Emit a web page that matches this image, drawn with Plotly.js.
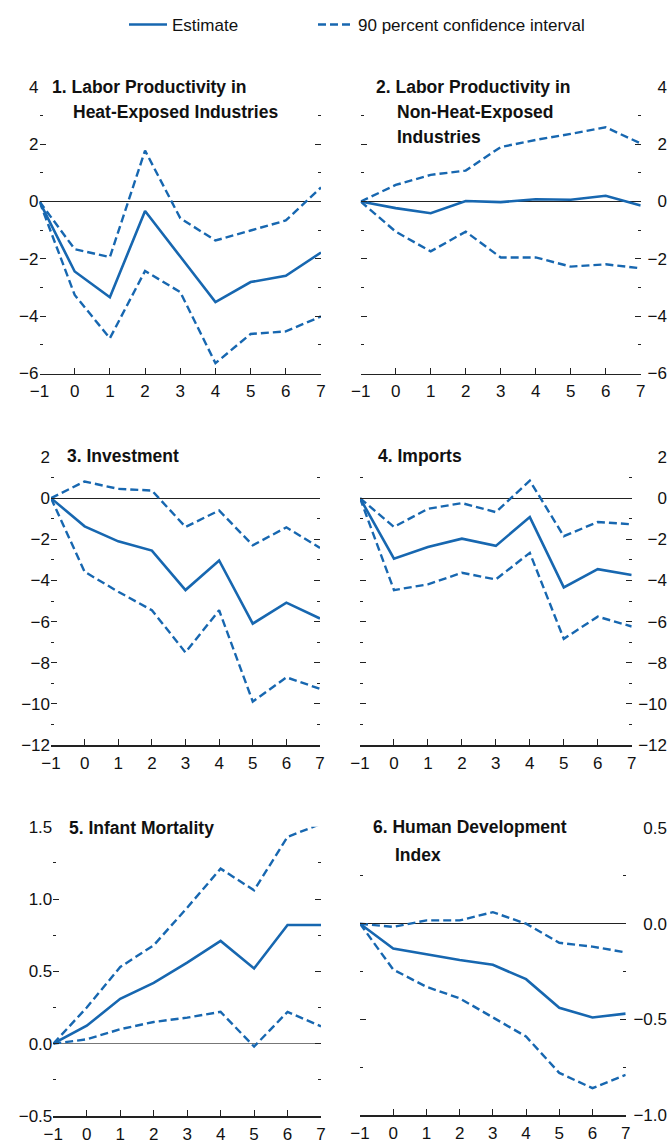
<!DOCTYPE html>
<html>
<head>
<meta charset="utf-8">
<script src="https://cdn.plot.ly/plotly-3.0.1.min.js"></script>
<style>html,body{margin:0;padding:0;background:#fff;}#chart{width:670px;height:1144px;}</style>
</head>
<body>
<div id="chart"></div>
<script>
// ---- data ----
const horizons = [-1, 0, 1, 2, 3, 4, 5, 6, 7];

const titles = [
  ["1. Labor Productivity in", "Heat-Exposed Industries"],
  ["2. Labor Productivity in", "Non-Heat-Exposed", "Industries"],
  ["3. Investment"],
  ["4. Imports"],
  ["5. Infant Mortality"],
  ["6. Human Development", "Index"]
];
const legendNames = ["Estimate", "90 percent confidence interval"];

const p1Est = [0, -2.44, -3.34, -0.33, -1.92, -3.51, -2.81, -2.59, -1.78];
const p1Up  = [0, -1.66, -1.94, 1.78, -0.58, -1.36, -1.01, -0.66, 0.49];
const p1Lo  = [0, -3.26, -4.77, -2.42, -3.16, -5.64, -4.62, -4.53, -4.01];

const p2Est = [0, -0.23, -0.41, 0.02, -0.02, 0.08, 0.06, 0.20, -0.14];
const p2Up  = [0, 0.58, 0.93, 1.08, 1.90, 2.15, 2.36, 2.59, 2.03];
const p2Lo  = [0, -1.05, -1.74, -1.05, -1.95, -1.95, -2.27, -2.19, -2.33];

const p3Est = [0, -1.37, -2.10, -2.55, -4.47, -3.03, -6.10, -5.08, -5.85];
const p3Up  = [0, 0.81, 0.45, 0.37, -1.40, -0.60, -2.29, -1.42, -2.42];
const p3Lo  = [0, -3.58, -4.55, -5.45, -7.50, -5.45, -9.89, -8.71, -9.27];

const p4Est = [0, -2.94, -2.37, -1.97, -2.32, -0.92, -4.34, -3.45, -3.74];
const p4Up  = [0, -1.40, -0.52, -0.24, -0.68, 0.85, -1.85, -1.16, -1.27];
const p4Lo  = [0, -4.47, -4.19, -3.63, -3.95, -2.66, -6.84, -5.76, -6.24];

const p5Est = [0, 0.124, 0.31, 0.42, 0.56, 0.71, 0.52, 0.82, 0.82];
const p5Up  = [0, 0.25, 0.53, 0.68, 0.94, 1.21, 1.06, 1.43, 1.52];
const p5Lo  = [0, 0.03, 0.10, 0.15, 0.18, 0.22, -0.02, 0.22, 0.12];

const p6Est = [0, -0.13, -0.16, -0.19, -0.215, -0.29, -0.44, -0.49, -0.47];
const p6Up  = [0, -0.017, 0.017, 0.017, 0.06, 0.0, -0.10, -0.12, -0.15];
const p6Lo  = [0, -0.24, -0.33, -0.39, -0.49, -0.59, -0.78, -0.86, -0.79];

// y axis scales: [min, max, major step, minor step, tick format]
const yScales = [
  [-6, 4, 2, 1, ""],
  [-6, 4, 2, 1, ""],
  [-12, 2, 2, 1, ""],
  [-12, 2, 2, 1, ""],
  [-0.5, 1.5, 0.5, 0.25, ".1f"],
  [-1.0, 0.5, 0.5, 0.25, ".1f"]
];

// ---- layout geometry (pixels) ----
const W = 670, H = 1144;
const BLUE = "#1767b0";
const FONT = "'Liberation Sans', Arial, sans-serif";
const panels = [
  {x0: 39.5, x1: 321,   top: 86.9,  bot: 373.5, right: false, title: [50, 87, 71, 112, 25]},
  {x0: 360.7, x1: 640.7, top: 86.9, bot: 373.5, right: true,  title: [373.7, 87, 394.7, 112, 24.5]},
  {x0: 51,   x1: 320,   top: 457,   bot: 745,   right: false, title: [65, 456, 0, 0, 0]},
  {x0: 360,  x1: 631.7, top: 457,   bot: 745,   right: true,  title: [376, 456, 0, 0, 0]},
  {x0: 53.3, x1: 321,   top: 826.7, bot: 1116,  right: false, title: [67, 828, 0, 0, 0]},
  {x0: 360,  x1: 625.7, top: 828,   bot: 1115,  right: true,  title: [371.3, 827, 392.7, 855, 28]}
];
const series = [[p1Est, p1Up, p1Lo], [p2Est, p2Up, p2Lo], [p3Est, p3Up, p3Lo],
                [p4Est, p4Up, p4Lo], [p5Est, p5Up, p5Lo], [p6Est, p6Up, p6Lo]];

const traces = [];
const legFont = {family: FONT, size: 17, color: "#111"};
const layout = {
  width: W, height: H,
  margin: {l: 0, r: 0, t: 0, b: 0},
  paper_bgcolor: "#fff", plot_bgcolor: "rgba(0,0,0,0)",
  font: {family: FONT, size: 17, color: "#111"},
  showlegend: true,
  legend: {orientation: "h", x: 124 / W, y: 1 - 7 / H, xanchor: "left", yanchor: "top",
    font: legFont, bgcolor: "rgba(0,0,0,0)", itemwidth: 38},
  legend2: {orientation: "h", x: 313 / W, y: 1 - 7 / H, xanchor: "left", yanchor: "top",
    font: legFont, bgcolor: "rgba(0,0,0,0)", itemwidth: 35},
  annotations: []
};

function range(a, b, s) { const r = []; for (let v = a; v <= b + 1e-9; v += s) r.push(+v.toFixed(4)); return r; }

let extra = 7;
panels.forEach((p, i) => {
  const n = i + 1;
  const xk = n === 1 ? "xaxis" : "xaxis" + n;
  const yk = n === 1 ? "yaxis" : "yaxis" + n;
  const xr = n === 1 ? "x" : "x" + n;
  const yr = n === 1 ? "y" : "y" + n;
  const [ymin, ymax, step, mstep, fmt] = yScales[i];
  const yd = [1 - p.bot / H, 1 - p.top / H];
  layout[xk] = {
    domain: [p.x0 / W, p.x1 / W], anchor: yr, range: [-1, 7],
    tickmode: "array", tickvals: horizons, ticks: "inside", ticklen: 6, tickwidth: 1, tickcolor: "#222",
    showline: true, linecolor: "#222", linewidth: 1.5, showgrid: false, zeroline: false,
    tickfont: {family: FONT, size: 17, color: "#111"}, ticklabelstandoff: 2, fixedrange: true
  };
  layout[yk] = {
    domain: yd, anchor: xr, range: [ymin, ymax],
    tickmode: "array", tickvals: range(ymin, ymax, step), tickformat: fmt,
    ticks: "inside", ticklen: 6, tickwidth: 1, tickcolor: "#222", mirror: "ticks",
    minor: {tickmode: "array", tickvals: range(ymin, ymax, mstep), ticks: "inside", ticklen: 3, tickwidth: 1, tickcolor: "#222", showgrid: false},
    showline: false, showgrid: false, zeroline: true, zerolinecolor: n === 5 ? "#777" : "#222", zerolinewidth: 1,
    showticklabels: !p.right, side: "left",
    tickfont: {family: FONT, size: 17, color: "#111"}, fixedrange: true
  };
  const [est, up, lo] = series[i];
  traces.push({x: horizons, y: est, xaxis: xr, yaxis: yr, mode: "lines", name: legendNames[0],
    line: {color: BLUE, width: 2.6}, showlegend: i === 0, legend: "legend", hoverinfo: "skip"});
  traces.push({x: horizons, y: up, xaxis: xr, yaxis: yr, mode: "lines", name: legendNames[1],
    line: {color: BLUE, width: 2.4, dash: "8px,4px"}, showlegend: i === 0, legend: "legend2", hoverinfo: "skip"});
  traces.push({x: horizons, y: lo, xaxis: xr, yaxis: yr, mode: "lines", name: legendNames[1],
    line: {color: BLUE, width: 2.4, dash: "8px,4px"}, showlegend: false, hoverinfo: "skip"});

  if (p.right) {
    // right-aligned labels on the right side via an overlaying label-only axis
    const ok = "yaxis" + extra, oref = "y" + extra;
    layout[ok] = {
      overlaying: yr, anchor: "free", position: 0.9955, side: "left", range: [ymin, ymax],
      tickmode: "array", tickvals: range(ymin, ymax, step), tickformat: fmt,
      ticks: "", showline: false, showgrid: false, zeroline: false,
      tickfont: {family: FONT, size: 17, color: "#111"}, fixedrange: true
    };
    traces.push({x: horizons, y: est, xaxis: xr, yaxis: oref, mode: "lines", opacity: 0,
      line: {width: 0, color: BLUE}, showlegend: false, hoverinfo: "skip"});
    extra++;
  }

  // panel titles
  const t = titles[i];
  const [tx, ty, tx2, ty2, dy] = p.title;
  t.forEach((line, k) => {
    layout.annotations.push({
      text: "<b>" + line + "</b>", xref: "paper", yref: "paper",
      x: (k === 0 ? tx : tx2) / W, y: 1 - (k === 0 ? ty : ty2 + (k - 1) * dy) / H,
      xanchor: "left", yanchor: "middle", showarrow: false,
      font: {family: FONT, size: 17.5, color: "#111"}
    });
  });
});

Plotly.newPlot("chart", traces, layout, {staticPlot: true, displayModeBar: false});
</script>
</body>
</html>
